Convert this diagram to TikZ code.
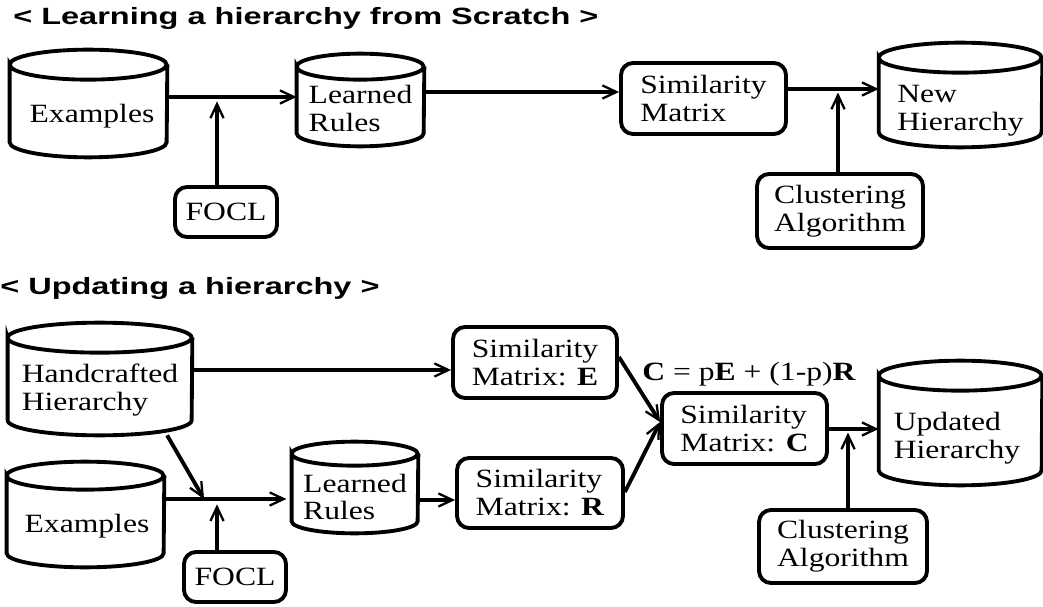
\documentclass[tikz,border=0pt]{standalone}
\usepackage{fontspec}
\setmainfont{Liberation Serif}[FakeStretch=1.2]
\newfontfamily\headfont{Liberation Sans}[FakeStretch=1.38]
\usepackage{tikz}
\usetikzlibrary{arrows.meta,calc}
\tikzstyle{store}=[rectangle, inner sep=0pt]
\tikzstyle{proc}=[rectangle, rounded corners=0.24cm, draw, line width=2.2pt, align=left, inner sep=0pt]
\tikzstyle{txt}=[align=left, inner sep=0pt]
\tikzstyle{head}=[anchor=base west, inner sep=0pt, font=\headfont\bfseries\fontsize{13.4}{16}\selectfont]
\tikzstyle{dgraph}=[-{Straight Barb[length=8pt,width=7.5pt,line width=1.3pt]}, line width=2.2pt]
% outline of a drum: node name, half width, cap radius
\newcommand{\drum}[3]{%
  \draw[line width=2.2pt] ([yshift=-#3]#1.north west) arc[start angle=180, end angle=-180, x radius=#2, y radius=#3]
    -- ([yshift=#3]#1.south west) arc[start angle=180, end angle=360, x radius=#2, y radius=#3]
    -- ([yshift=-#3]#1.north east);}

\begin{document}
\begin{tikzpicture}[x=0.02cm, y=-0.02cm, every node/.style={font=\fontsize{15}{15.9}\selectfont}]
\useasboundingbox (0,0) rectangle (1043,607);
% learning from scratch
\node[head] (t1) at (13,25) {< Learning a hierarchy from Scratch >};
\node[store, minimum width=3.14cm, minimum height=2.14cm] (ex1) at (88.5,103.5) {};
\drum{ex1}{1.57cm}{0.3cm}
\node[txt] (ex1t) at (92,116) {Examples};
\node[store, minimum width=2.54cm, minimum height=1.84cm] (lr1) at (360.5,100) {};
\drum{lr1}{1.27cm}{0.26cm}
\node[txt] (lr1t) at (360.5,108.5) {Learned\\Rules};
\node[proc, minimum width=3.3cm, minimum height=1.42cm] (sm1) at (703.5,98.5) {Similarity\\Matrix};
\node[store, minimum width=3.26cm, minimum height=2.08cm] (nh1) at (960.5,95) {};
\drum{nh1}{1.63cm}{0.3cm}
\node[txt] (nh1t) at (960.5,111) {New\\Hierarchy};
\node[proc, minimum width=2.04cm, minimum height=1cm] (focl1) at (226,212) {FOCL};
\node[proc, minimum width=3.32cm, minimum height=1.48cm] (cl1) at (840,211) {Clustering\\Algorithm};
\coordinate (j1) at (217,97);
\coordinate (j2) at (838,89);
\draw [dgraph] (ex1.east |- j1) -- (lr1.west |- j1);
\draw [dgraph, shorten >=2.5pt] (focl1.north -| j1) -- (j1);
\draw [dgraph] (lr1.east |- 0,92) -- (sm1.west |- 0,92);
\draw [dgraph] (sm1.east |- j2) -- (nh1.west |- j2);
\draw [dgraph, shorten >=2pt] (cl1.north -| j2) -- (j2);
% updating
\node[head] (t2) at (0,295) {< Updating a hierarchy >};
\node[store, minimum width=3.68cm, minimum height=2.24cm] (hh) at (100,379) {};
\drum{hh}{1.84cm}{0.3cm}
\node[txt] (hht) at (100,390) {Handcrafted\\Hierarchy};
\node[store, minimum width=3.14cm, minimum height=2.1cm] (ex2) at (85.5,514.5) {};
\drum{ex2}{1.57cm}{0.28cm}
\node[txt] (ex2t) at (87,526) {Examples};
\node[proc, minimum width=2.04cm, minimum height=1cm] (focl2) at (235,577) {FOCL};
\node[store, minimum width=2.52cm, minimum height=1.82cm] (lr2) at (355,487.5) {};
\drum{lr2}{1.26cm}{0.24cm}
\node[txt] (lr2t) at (355,497) {Learned\\Rules};
\node[proc, minimum width=3.28cm, minimum height=1.42cm] (sme) at (535,362.5) {Similarity\\Matrix: \textbf{E}};
\node[proc, minimum width=3.32cm, minimum height=1.4cm] (smr) at (540,493) {Similarity\\Matrix: \textbf{R}};
\node[proc, minimum width=3.3cm, minimum height=1.42cm] (smc) at (744.5,428.5) {Similarity\\Matrix: \textbf{C}};
\node[store, minimum width=3.26cm, minimum height=2.48cm] (uh) at (960.5,423) {};
\drum{uh}{1.63cm}{0.3cm}
\node[txt] (uht) at (957,438) {Updated\\Hierarchy};
\node[proc, minimum width=3.36cm, minimum height=1.46cm] (cl2) at (843,546.5) {Clustering\\Algorithm};
\node[anchor=base west, inner sep=0pt] (eq) at (642,380) {\textbf{C} = p\textbf{E} + (1-p)\textbf{R}};
\coordinate (j3) at (204,499);
\coordinate (j4) at (217,499);
\coordinate (j5) at (848,429);
\draw [dgraph] (hh.east |- 0,370) -- (sme.west |- 0,370);
\draw [dgraph] (hh.-40) -- (j3);
\draw [dgraph, shorten >=3pt] (ex2.east |- j4) -- (lr2.west |- j4);
\draw [dgraph, shorten >=3pt] (focl2.north -| j4) -- (j4);
\draw [dgraph] (lr2.east |- 0,500) -- (smr.west |- 0,500);
\draw [dgraph] (sme.east |- 0,357) -- ([yshift=0.13cm]smc.west);
\draw [dgraph] (smr.east |- 0,492) -- ([yshift=0.13cm]smc.west);
\draw [dgraph] (smc.east |- j5) -- (uh.west |- j5);
\draw [dgraph, shorten >=2pt] (cl2.north -| j5) -- (j5);
\end{tikzpicture}
\end{document}
